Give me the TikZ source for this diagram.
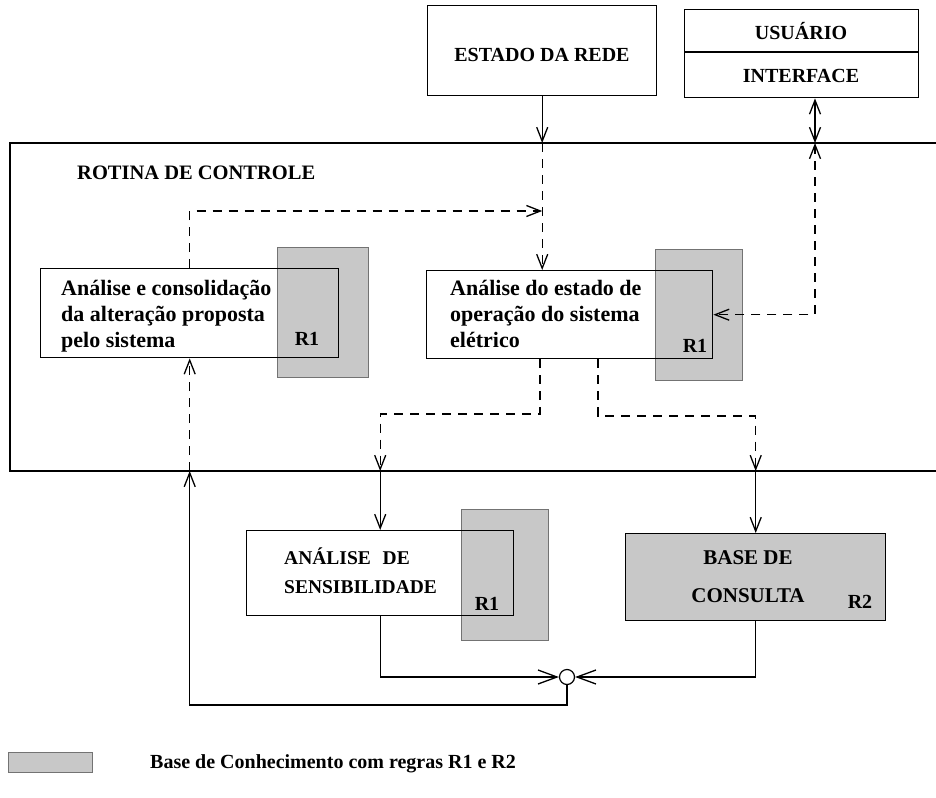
\documentclass[tikz,border=0pt]{standalone}
\usepackage{fontspec}
\setmainfont{Liberation Serif}
\usetikzlibrary{arrows.meta}
\definecolor{kbgray}{RGB}{200,200,200}
\begin{document}
\begin{tikzpicture}[x=1pt,y=-1pt,
  box/.style={draw, line width=1.4pt, inner sep=0pt, anchor=north west},
  kb/.style={fill=kbgray, draw=black!55, line width=0.8pt, inner sep=0pt, anchor=north west},
  captxt/.style={font=\fontsize{20}{25}\selectfont\bfseries, inner sep=0pt},
  body/.style={font=\fontsize{22}{26}\selectfont\bfseries, inner sep=0pt, align=left, anchor=west},
  con/.style={line width=1.3pt},
  dsh/.style={line width=1.3pt, dash pattern=on 9pt off 7pt},
  tip/.style={-{Straight Barb[length=14pt,width=11pt]}},
  tipj/.style={-{Straight Barb[length=19pt,width=14pt]}},
  tiptwo/.style={{Straight Barb[length=14pt,width=11pt]}-{Straight Barb[length=14pt,width=11pt]}},
]
\useasboundingbox (0,0) rectangle (936,797);

% reference points
\coordinate (rtop) at (0,143);
\coordinate (rbot) at (0,471);
\coordinate (ix) at (815,0);
\coordinate (m1) at (540,0);
\coordinate (m2) at (598,0);
\coordinate (ly) at (0,211);
\coordinate (my1) at (0,414);
\coordinate (my2) at (0,416);
\coordinate (by) at (0,705);

% control routine frame (open on the right)
\draw[line width=1.4pt] (936,143) -- (10,143) -- (10,471) -- (936,471);
\node[captxt, anchor=west, font=\fontsize{20.5}{25}\selectfont\bfseries] (rot) at (77,173) {ROTINA DE CONTROLE};

% top boxes
\node[box, minimum width=229pt, minimum height=90pt] (E) at (427,5) {};
\node[captxt] (Et) at (542,55) {ESTADO DA REDE};
\node[box, minimum width=234pt, minimum height=88pt] (U) at (684,9) {};
\draw[line width=1.2pt] (U.west |- 0,52) -- (U.east |- 0,52);
\node[captxt] (Ut) at (801,31) {USUÁRIO};
\node[captxt] (It) at (801,76) {INTERFACE};

% knowledge-base shadings
\node[kb, minimum width=91pt, minimum height=130pt] (Ak) at (277,247) {};
\node[kb, minimum width=87pt, minimum height=131pt] (Mk) at (655,249) {};
\node[kb, minimum width=87pt, minimum height=131pt] (Sk) at (461,509) {};

% process boxes
\node[box, minimum width=298pt, minimum height=89pt] (A) at (40,268) {};
\node[body] (At) at (61,316) {Análise e consolidação\\da alteração proposta\\pelo sistema};
\node[captxt] (A1) at (307,339) {R1};

\node[box, minimum width=286pt, minimum height=88pt] (M) at (426,270) {};
\node[body] (Mt) at (450,314) {Análise do estado de\\operação do sistema\\elétrico};
\node[captxt] (M1) at (695,346) {R1};

\node[box, minimum width=267pt, minimum height=85pt] (S) at (246,530) {};
\node[captxt, align=left, anchor=west, font=\fontsize{19.5}{29}\selectfont\bfseries] (St) at (284,571) {ANÁLISE\hspace{7pt} DE\\SENSIBILIDADE};
\node[captxt] (S1) at (487,604) {R1};

\node[box, fill=kbgray, minimum width=260pt, minimum height=87pt] (B) at (625,533) {};
\node[captxt, align=center, font=\fontsize{21}{38}\selectfont\bfseries] (Bt) at (748,577) {BASE DE\\CONSULTA};
\node[captxt] (B2) at (860,602) {R2};

% junction
\node[draw, circle, line width=1.2pt, fill=white, minimum size=15pt, inner sep=0pt] (J) at (567,677) {};

% connectors
\draw[con,tip] (E.south) -- (E.south |- rtop);
\draw[dsh,tip] (E.south |- rtop) -- (E.south |- M.north);
\draw[dsh,tip] (A.north) -- (A.north |- ly) -- (E.south |- ly);

\draw[con,tiptwo] (U.south -| ix) -- (ix |- rtop);
\draw[dsh,tiptwo] (ix |- rtop) -- (ix |- M.east) -- (M.east);

\draw[dsh,tip] (m1 |- M.south) -- (m1 |- my1) -- (S.north |- my1) -- (S.north |- rbot);
\draw[con,tip] (S.north |- rbot) -- (S.north);
\draw[dsh,tip] (m2 |- M.south) -- (m2 |- my2) -- (B.north |- my2) -- (B.north |- rbot);
\draw[con,tip] (B.north |- rbot) -- (B.north);

\draw[con,tipj] (S.south) -- (S.south |- J.west) -- (J.west);
\draw[con,tipj] (B.south) -- (B.south |- J.east) -- (J.east);
\draw[con,tip] (J.south) -- (J.south |- by) -- (A.south |- by) -- (A.south |- rbot);
\draw[dsh,tip] (A.south |- rbot) -- (A.south);

% legend
\node[kb, minimum width=84pt, minimum height=20pt] (L) at (8,752) {};
\node[captxt, anchor=west] (Lt) at (150,764) {Base de Conhecimento com regras R1 e R2};
\end{tikzpicture}
\end{document}
